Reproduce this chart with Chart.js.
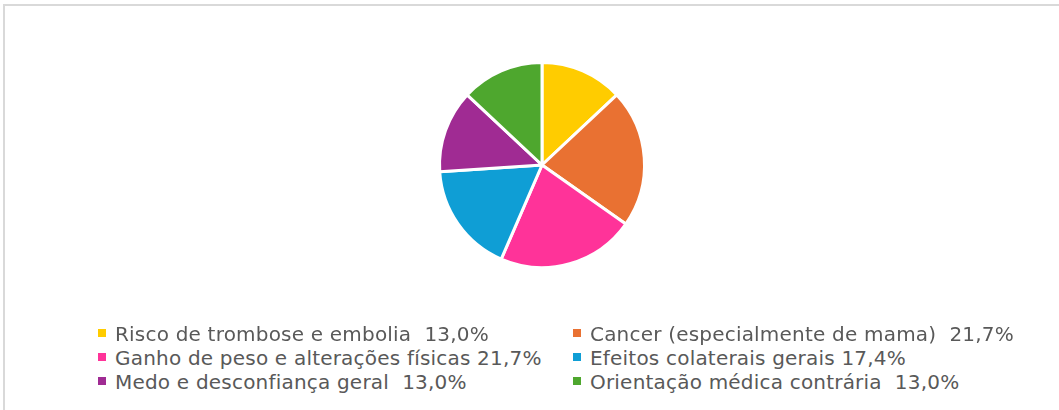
<!DOCTYPE html>
<html>
<head>
<meta charset="utf-8">
<script src="https://cdn.jsdelivr.net/npm/chart.js@4.4.1/dist/chart.umd.min.js"></script>
<style>
  body { margin: 0; background: #fff; width: 1059px; height: 410px; overflow: hidden; position: relative; font-family: "DejaVu Sans", sans-serif; }
  #frame { position: absolute; left: 3px; top: 4px; width: 1100px; height: 450px; border: 2px solid #d9d9d9; box-sizing: border-box; }
  #wrap { position: absolute; left: 0; top: 0; width: 1059px; height: 330px; }
  #legend { position: absolute; top: 322px; left: 0; width: 1059px; }
  .item { position: absolute; height: 24px; line-height: 24px; font-size: 20px; letter-spacing: 0.2px; color: #595959; white-space: pre; }
  .box { display: inline-block; width: 8px; height: 8px; margin-right: 9px; vertical-align: 4px; }
</style>
</head>
<body>
<div id="frame"></div>
<div id="wrap"><canvas id="pie"></canvas></div>
<div id="legend"></div>
<script>
// Data
const categories = [
  'Risco de trombose e embolia ',
  'Cancer (especialmente de mama) ',
  'Ganho de peso e alterações físicas',
  'Efeitos colaterais gerais',
  'Medo e desconfiança geral ',
  'Orientação médica contrária '
];
const percents = [13.0, 21.7, 21.7, 17.4, 13.0, 13.0];
const colors = ['#FFCC00', '#E97132', '#FF3399', '#0F9ED5', '#A02B93', '#4EA72E'];

const ctx = document.getElementById('pie').getContext('2d');
const pieChart = new Chart(ctx, {
  type: 'pie',
  data: {
    labels: categories,
    datasets: [{
      data: percents,
      backgroundColor: colors,
      borderColor: '#ffffff',
      borderWidth: 3,
      hoverOffset: 0
    }]
  },
  options: {
    responsive: true,
    maintainAspectRatio: false,
    animation: false,
    layout: { padding: { top: 61, bottom: 61, left: 25, right: 0 } },
    plugins: {
      legend: { display: false },
      tooltip: { enabled: false }
    }
  }
});

// Legend, two columns, filled row by row
const legendEl = document.getElementById('legend');
const colX = [98, 573];
categories.forEach((name, i) => {
  const item = document.createElement('div');
  item.className = 'item';
  item.style.left = colX[i % 2] + 'px';
  item.style.top = (Math.floor(i / 2) * 24) + 'px';
  const box = document.createElement('span');
  box.className = 'box';
  box.style.background = colors[i];
  item.appendChild(box);
  item.appendChild(document.createTextNode(name + ' ' + percents[i].toFixed(1).replace('.', ',') + '%'));
  legendEl.appendChild(item);
});
</script>
</body>
</html>
